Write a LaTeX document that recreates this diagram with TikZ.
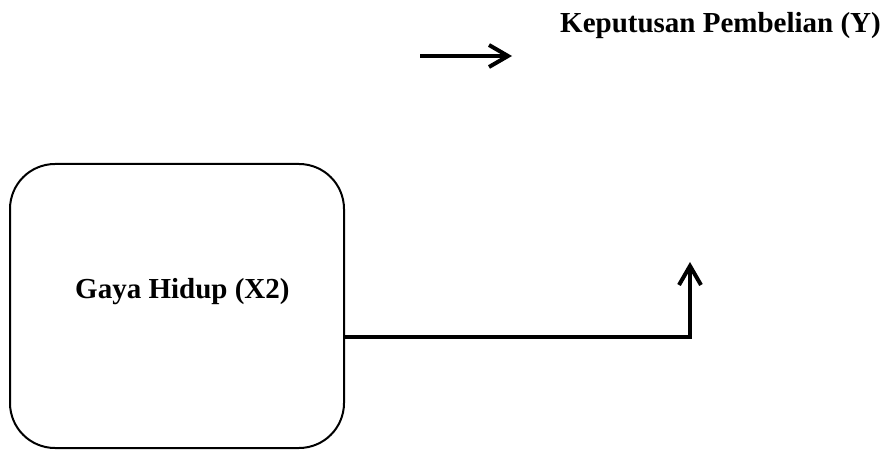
\documentclass[tikz,border=0pt]{standalone}
\usepackage{fontspec}
\setmainfont{Liberation Serif}
\usetikzlibrary{arrows.meta}
\tikzset{
  boxnode/.style={draw=black, line width=2pt, rounded corners=45pt, minimum width=334pt, minimum height=284pt, inner sep=0pt},
  lbl/.style={font=\fontsize{29}{34}\selectfont\bfseries, inner sep=0pt},
  conn/.style={draw=black, line width=4pt, -{Straight Barb[length=19pt,width=22pt]}}
}
\begin{document}
\begin{tikzpicture}[x=1pt,y=1pt]
\useasboundingbox (0,0) rectangle (888,450);
\node[boxnode] (x2) at (177,144) {};
\node[lbl, anchor=base west] (x2lbl) at (75,152) {Gaya Hidup (X2)};
\node[lbl, anchor=base west] (ylbl) at (560,417) {Keputusan Pembelian (Y)};
\coordinate (a1) at (420,394);
\coordinate (a2) at (512,394);
\coordinate (bend) at (690,113);
\coordinate (tipY) at (690,188);
\draw[conn] (a1) -- (a2);
\draw[conn] (x2.east |- bend) -- (bend) -- (tipY);
\end{tikzpicture}
\end{document}
